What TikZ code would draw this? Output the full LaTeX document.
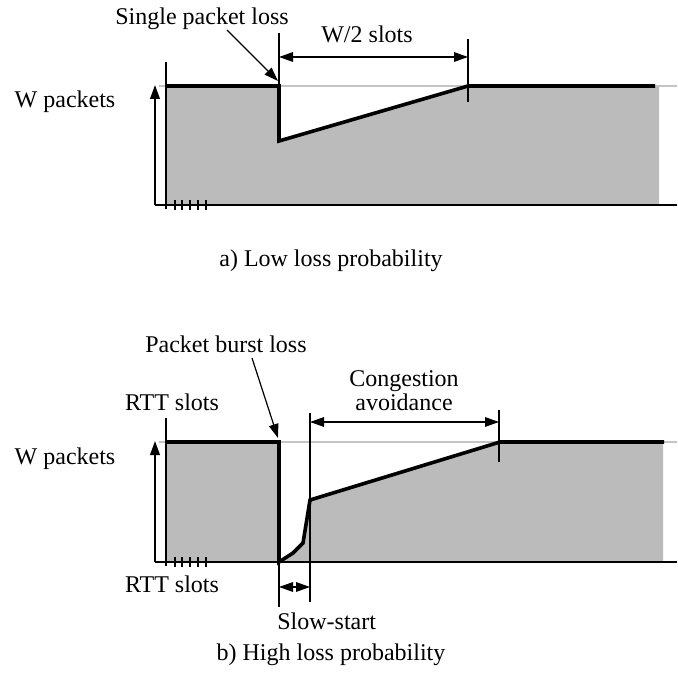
\documentclass[tikz,border=0pt]{standalone}
\usepackage{fontspec}
\setmainfont{Liberation Serif}
\usepackage{tikz}
\usetikzlibrary{arrows.meta}
\definecolor{plotgray}{HTML}{BBBBBB}
\definecolor{refgray}{HTML}{C4C4C4}

\begin{document}
\begin{tikzpicture}[x=0.5pt,y=-0.5pt,>={Triangle[length=7pt,width=4.8pt]},
  lbl/.style={inner sep=0pt,anchor=base,font=\fontsize{12}{12}\selectfont},
  thinline/.style={line width=0.6pt},
  axisline/.style={line width=1pt},
  curve/.style={line width=1.8pt,line join=miter}]
\useasboundingbox (0,0) rectangle (677,690);
% a) low loss probability
\fill[plotgray](166,205)--(166,86)--(279,86)--(279,141)--(468,86)--(659,86)--(659,205)--cycle;
\draw[refgray,thinline](159,86)--(677,86);
\draw[axisline](155,205)--(677,205);
\draw[axisline,->](155,205)--(155,85);
\draw[thinline](166,209)--(166,62)
  (279,33)--(279,86)
  (468,39)--(468,102);
\foreach \x in {175,182,190,198,206} \draw[thinline](\x,200)--(\x,210);
\draw[curve](166,86)--(279,86)--(279,141)--(468,86)--(655,86);
\coordinate(wa) at (279,57);
\coordinate(wb) at (468,57);
\draw[thinline,<->](wa)--(wb);
\node[lbl](wslots) at (367,43){W/2 slots};
\node[lbl](wpacketsa) at (65,108){W packets};
\node[lbl](single) at (202,25){Single packet loss};
\coordinate(singlefrom) at (227,30);
\coordinate(singleto) at (278,81);
\draw[thinline,->](singlefrom)--(singleto);
\node[lbl](capa) at (331,266){a) Low loss probability};
% b) high loss probability
\fill[plotgray](166,562)--(166,442)--(279,442)--(279,562)--(293,553)--(303,543)--(310,500)--(500,442)--(663,442)--(663,562)--cycle;
\draw[refgray,thinline](159,442)--(677,442);
\draw[axisline](155,562)--(677,562);
\draw[axisline,->](155,562)--(155,441);
\draw[thinline](166,566)--(166,418)
  (279,562)--(279,607)
  (310,413)--(310,602)
  (499,410)--(499,462);
\foreach \x in {175,182,190,198,206} \draw[thinline](\x,557)--(\x,567);
\draw[curve](166,442)--(279,442)--(279,562)--(293,553)--(303,543)--(310,500)--(500,442)--(664,442);
\coordinate(ssa) at (279,587);
\coordinate(ssb) at (310,587);
\draw[thinline,<->](ssa)--(ssb);
\coordinate(caa) at (310,422);
\coordinate(cab) at (499,422);
\draw[thinline,<->](caa)--(cab);
\node[lbl](rttup) at (172,410){RTT slots};
\node[lbl](wpacketsb) at (65,464){W packets};
\node[lbl](rttdown) at (172,592){RTT slots};
\node[lbl](burst) at (226,352){Packet burst loss};
\coordinate(burstfrom) at (252,358);
\coordinate(burstto) at (278,438);
\draw[thinline,->](burstfrom)--(burstto);
\node[lbl,align=center](congestion) at (404,410){Congestion\\avoidance};
\node[lbl,anchor=base west](slowstart) at (277,629){Slow-start};
\node[lbl](capb) at (331,660){b) High loss probability};
\end{tikzpicture}
\end{document}
